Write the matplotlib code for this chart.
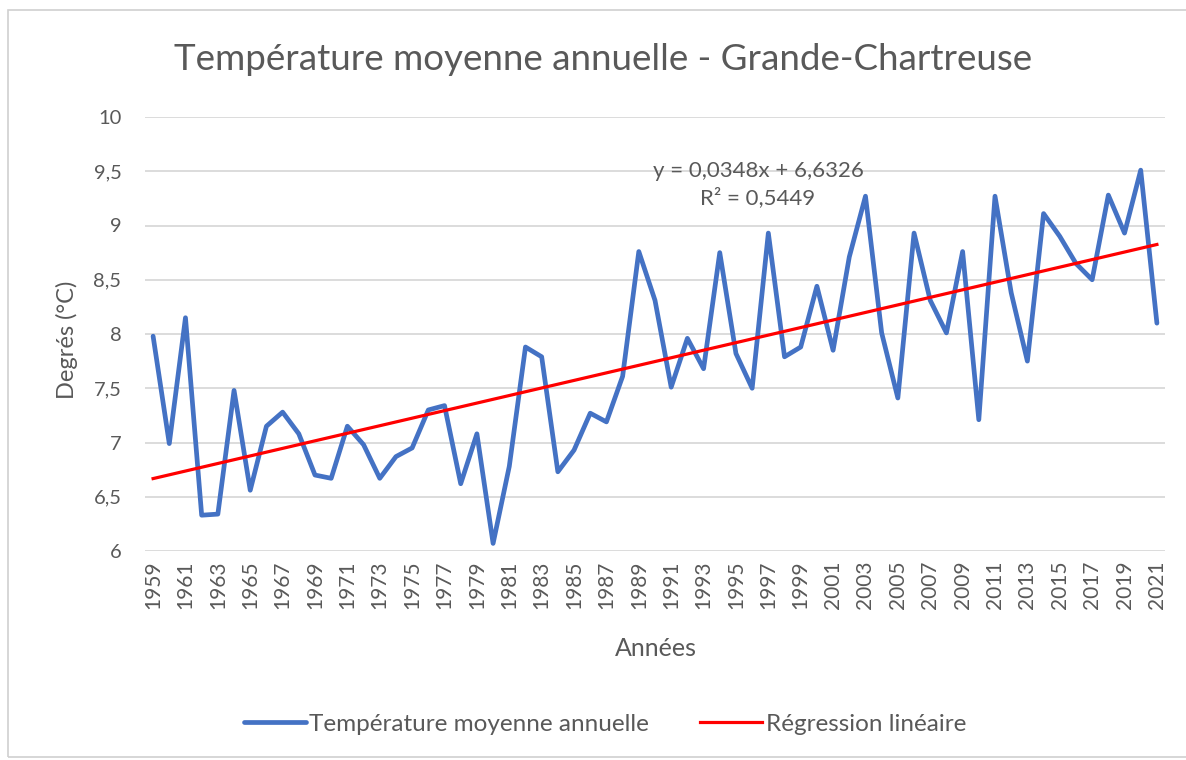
import matplotlib
matplotlib.use("Agg")
import matplotlib.pyplot as plt
from matplotlib.lines import Line2D
from matplotlib.patches import Rectangle

years = list(range(1959, 2022))
temperatures = [
    7.98, 6.99, 8.15, 6.33, 6.34, 7.48, 6.56, 7.15, 7.28, 7.08,
    6.70, 6.67, 7.15, 6.98, 6.67, 6.87, 6.95, 7.30, 7.34, 6.62,
    7.08, 6.07, 6.78, 7.88, 7.79, 6.73, 6.93, 7.27, 7.19, 7.61,
    8.76, 8.31, 7.51, 7.96, 7.68, 8.75, 7.82, 7.50, 8.93, 7.79,
    7.88, 8.44, 7.85, 8.71, 9.27, 8.01, 7.41, 8.93, 8.31, 8.01,
    8.76, 7.21, 9.27, 8.38, 7.75, 9.11, 8.90, 8.65, 8.50, 9.28,
    8.93, 9.51, 8.10,
]
slope = 0.0348
intercept = 6.6326
r2 = 0.5449
y_ticks = [6, 6.5, 7, 7.5, 8, 8.5, 9, 9.5, 10]
y_tick_labels = ["6", "6,5", "7", "7,5", "8", "8,5", "9", "9,5", "10"]

title = "Température moyenne annuelle - Grande-Chartreuse"
xlabel = "Années"
ylabel = "Degrés (°C)"
series_label = "Température moyenne annuelle"
trend_label = "Régression linéaire"

plt.rcParams['font.family'] = ['Lato', 'DejaVu Sans']

W, H = 1186, 760
fig = plt.figure(figsize=(W / 100, H / 100), dpi=100)
fig.patch.set_facecolor("white")

# outer chart border
fig.add_artist(Rectangle((8 / W, 3 / H), (W - 6) / W, (H - 13) / H,
                         transform=fig.transFigure, fill=False,
                         edgecolor="#d0d0d0", linewidth=1.2))

left, right, top, bottom = 145, 1165, 117, 551
ax = fig.add_axes([left / W, 1 - bottom / H, (right - left) / W, (bottom - top) / H])

idx = list(range(len(years)))
trend = [slope * (i + 1) + intercept for i in idx]

ax.plot(idx, temperatures, color="#4472C4", linewidth=3.4, solid_joinstyle="round",
        solid_capstyle="round", zorder=3)
ax.plot(idx, trend, color="#FF0000", linewidth=2.3, zorder=4)

ax.set_xlim(-0.5, len(years) - 0.5)
ax.set_ylim(6, 10)
ax.set_yticks(y_ticks)
ax.set_yticklabels(y_tick_labels)
ax.set_xticks(idx[::2])
ax.set_xticklabels([str(y) for y in years[::2]], rotation=90)
ax.tick_params(axis="both", length=0, colors="#595959")
ax.tick_params(axis="y", pad=17, labelsize=14.5)
ax.tick_params(axis="x", pad=7, labelsize=15)
ax.grid(axis="y", color="#d9d9d9", linewidth=1.3)
ax.set_axisbelow(True)
for s in ax.spines.values():
    s.set_visible(False)

fig.text(603 / W, 1 - 60 / H, title, ha="center", va="center", fontsize=26.5, color="#595959")
fig.text(67 / W, 1 - 340 / H, ylabel, ha="center", va="center", rotation=90,
         fontsize=17, color="#595959")
fig.text(656 / W, 1 - 648 / H, xlabel, ha="center", va="center", fontsize=18, color="#595959")

ax.text(0.601, 1 - (171 - top) / (bottom - top), f"y = {slope:.4f}x + {intercept:.4f}".replace(".", ","),
        transform=ax.transAxes, ha="center", va="center", fontsize=16, color="#595959")
ax.text(0.601, 1 - (198 - top) / (bottom - top), f"R² = {r2:.4f}".replace(".", ","),
        transform=ax.transAxes, ha="center", va="center", fontsize=16, color="#595959")

handles = [Line2D([0], [0], color="#4472C4", linewidth=3.4, solid_capstyle="round"),
           Line2D([0], [0], color="#FF0000", linewidth=2.3)]
leg = fig.legend(handles, [series_label, trend_label], loc="center",
                 bbox_to_anchor=(605 / W, 1 - 724 / H), ncol=2, frameon=False,
                 fontsize=17.5, handlelength=2.55, handletextpad=0.15, columnspacing=2.1)
for t in leg.get_texts():
    t.set_color("#595959")

fig.savefig("out.png", dpi=100, facecolor="white")
